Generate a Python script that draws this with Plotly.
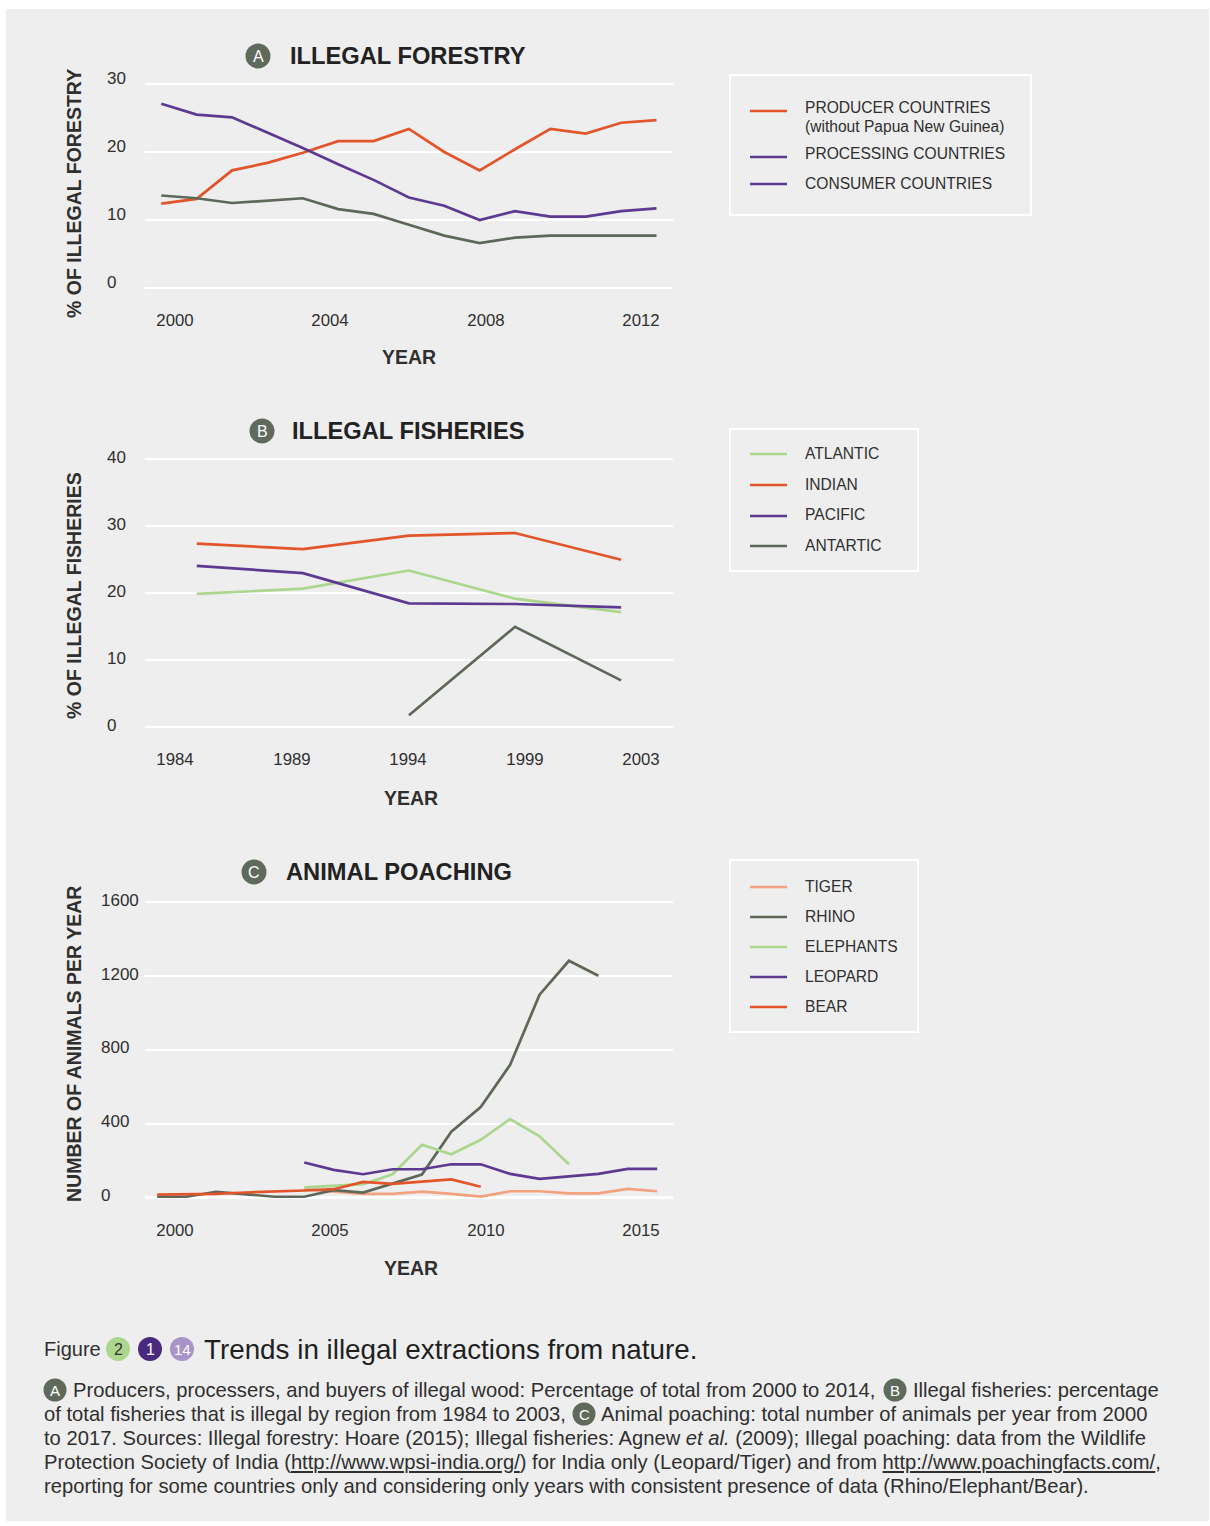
import plotly.graph_objects as go

W, H = 1210, 1526

# ---------------- DATA ----------------
# A: Illegal forestry (% of total)
FOREST_YEARS = [2000, 2001, 2002, 2003, 2004, 2005, 2006, 2007, 2008, 2009, 2010, 2011, 2012, 2013, 2014]
PRODUCER = [12.4, 13.1, 17.3, 18.4, 19.9, 21.6, 21.6, 23.4, 20.0, 17.3, 20.4, 23.4, 22.7, 24.3, 24.7]
PROCESSING = [27.1, 25.5, 25.1, 22.9, 20.6, 18.2, 15.9, 13.3, 12.1, 10.0, 11.3, 10.5, 10.5, 11.3, 11.7]
CONSUMER = [13.6, 13.2, 12.5, 12.8, 13.2, 11.6, 10.9, 9.3, 7.7, 6.6, 7.4, 7.7, 7.7, 7.7, 7.7]
FOREST_TICKS = ["2000", "2004", "2008", "2012"]
FOREST_YTICKS = [0, 10, 20, 30]

# B: Illegal fisheries (% of total)
FISH_PERIODS = ["P1", "P2", "P3", "P4", "P5"]
ATLANTIC = [19.9, 20.7, 23.4, 19.2, 17.2]
INDIAN = [27.4, 26.6, 28.6, 29.0, 25.0]
PACIFIC = [24.1, 23.0, 18.5, 18.4, 17.9]
ANTARTIC = [None, None, 1.8, 15.0, 7.0]
FISH_TICKS = ["1984", "1989", "1994", "1999", "2003"]
FISH_YTICKS = [0, 10, 20, 30, 40]

# C: Animal poaching (animals per year)
POACH_YEARS = [2000, 2001, 2002, 2003, 2004, 2005, 2006, 2007, 2008, 2009,
               2010, 2011, 2012, 2013, 2014, 2015, 2016, 2017]
TIGER = [None, None, None, None, None, 45, 32, 20, 20, 32, 20, 5, 34, 34, 22, 22, 47, 34]
RHINO = [4, 4, 31, 16, 4, 4, 40, 27, 76, 124, 357, 490, 719, 1099, 1283, 1202, None, None]
ELEPHANTS = [None, None, None, None, None, 55, 65, 72, 126, 286, 234, 313, 425, 332, 180, None, None, None]
LEOPARD = [None, None, None, None, None, 190, 150, 126, 153, 153, 180, 180, 128, 101, 115, 128, 155, 155]
BEAR = [16, 16, 20, 27, 31, 38, 45, 85, 74, 86, 98, 58, None, None, None, None, None, None]
POACH_TICKS = ["2000", "2005", "2010", "2015"]
POACH_YTICKS = [0, 400, 800, 1200, 1600]

# ---------------- STYLE ----------------
ORANGE = "#e2542a"
PURPLE = "#5d3a91"
GREY = "#5d6859"
GREEN = "#abd68d"
SALMON = "#f3a27f"
BADGE = "#5f6a5d"
BG = "#eeeeee"
TXT = "#2f2f2f"
FONT = "Liberation Sans, Arial, sans-serif"


def X(p):
    return p / W


def Y(p):
    return 1 - p / H


def lin(p0, v0, p1, v1):
    return lambda p: v0 + (p - p0) * (v1 - v0) / (p1 - p0)


fig = go.Figure()
shapes = []
ann = []

PLOT_L, PLOT_R = 145, 673

panels = [
    dict(xa="x", ya="y", xmap=lin(161.3, 2000, 656.5, 2014), tickpx=[175, 330, 486, 641],
         ticktext=FOREST_TICKS, ymap=lin(288, 0, 84, 30), ydom=(80, 292), yticks=FOREST_YTICKS,
         ylab_x=104.5, ylab_shift=5),
    dict(xa="x2", ya="y2", xmap=lin(196.8, 0, 621.1, 4), tickpx=[175, 292, 408, 525, 641],
         ticktext=FISH_TICKS, ymap=lin(727.3, 0, 459.3, 40), ydom=(455, 731), yticks=FISH_YTICKS,
         ylab_x=104.5, ylab_shift=2),
    dict(xa="x3", ya="y3", xmap=lin(157.2, 2000, 657.2, 2017), tickpx=[175, 330, 486, 641],
         ticktext=POACH_TICKS, ymap=lin(1197.5, 0, 902.3, 1600), ydom=(898, 1202), yticks=POACH_YTICKS,
         ylab_x=99, ylab_shift=2),
]

series = [
    (0, FOREST_YEARS, PRODUCER, ORANGE, "PRODUCER COUNTRIES"),
    (0, FOREST_YEARS, PROCESSING, PURPLE, "PROCESSING COUNTRIES"),
    (0, FOREST_YEARS, CONSUMER, GREY, "CONSUMER COUNTRIES"),
    (1, list(range(len(FISH_PERIODS))), ATLANTIC, GREEN, "ATLANTIC"),
    (1, list(range(len(FISH_PERIODS))), INDIAN, ORANGE, "INDIAN"),
    (1, list(range(len(FISH_PERIODS))), PACIFIC, PURPLE, "PACIFIC"),
    (1, list(range(len(FISH_PERIODS))), ANTARTIC, GREY, "ANTARTIC"),
    (2, POACH_YEARS, TIGER, SALMON, "TIGER"),
    (2, POACH_YEARS, RHINO, GREY, "RHINO"),
    (2, POACH_YEARS, ELEPHANTS, GREEN, "ELEPHANTS"),
    (2, POACH_YEARS, LEOPARD, PURPLE, "LEOPARD"),
    (2, POACH_YEARS, BEAR, ORANGE, "BEAR"),
]

for pi, xs, ys, col, name in series:
    p = panels[pi]
    fig.add_trace(go.Scatter(x=xs, y=ys, mode="lines", name=name, xaxis=p["xa"], yaxis=p["ya"],
                             line=dict(color=col, width=2.7), connectgaps=False,
                             showlegend=False, hoverinfo="skip"))

layout_axes = {}
for i, p in enumerate(panels):
    sfx = "" if i == 0 else str(i + 1)
    xm, ym = p["xmap"], p["ymap"]
    layout_axes["xaxis" + sfx] = dict(
        domain=[X(PLOT_L), X(PLOT_R)], anchor=p["ya"], range=[xm(PLOT_L), xm(PLOT_R)],
        tickmode="array", tickvals=[xm(t) for t in p["tickpx"]], ticktext=p["ticktext"],
        showgrid=False, zeroline=False, showline=False, ticks="outside", ticklen=13,
        tickcolor="rgba(0,0,0,0)", tickfont=dict(family=FONT, size=16.8, color=TXT), fixedrange=True)
    y0, y1 = p["ydom"]
    layout_axes["yaxis" + sfx] = dict(
        domain=[Y(y1), Y(y0)], anchor=p["xa"], range=[ym(y1), ym(y0)],
        tickmode="array", tickvals=p["yticks"], showgrid=True, gridcolor="#ffffff", gridwidth=2.2,
        zeroline=False, showline=False, ticks="", showticklabels=False, fixedrange=True)
    # left-aligned y tick labels placed on the axis scale
    for v in p["yticks"]:
        ann.append(dict(x=X(p["ylab_x"]), y=v, xref="paper", yref=p["ya"], text=str(v),
                        showarrow=False, xanchor="left", yanchor="middle", yshift=p["ylab_shift"],
                        font=dict(family=FONT, size=17, color=TXT)))

# background panel
shapes.append(dict(type="rect", xref="paper", yref="paper", x0=X(6), x1=X(1209), y0=Y(1521), y1=Y(9),
                   fillcolor=BG, line=dict(width=0), layer="below"))


def badge(cx, cy, r, fill, letter, tcol="#ffffff", size=15):
    shapes.append(dict(type="circle", xref="paper", yref="paper", x0=X(cx - r), x1=X(cx + r),
                       y0=Y(cy + r), y1=Y(cy - r), fillcolor=fill, line=dict(width=0), layer="above"))
    ann.append(dict(x=X(cx), y=Y(cy + 0.5), xref="paper", yref="paper", text=letter, showarrow=False,
                    xanchor="center", yanchor="middle",
                    font=dict(family=FONT, size=size, color=tcol)))


def text(x, y, s, size=16, bold=False, anchor="left", angle=0, col=TXT):
    ann.append(dict(x=X(x), y=Y(y), xref="paper", yref="paper", text=("<b>%s</b>" % s) if bold else s,
                    showarrow=False, xanchor=anchor, yanchor="middle", textangle=angle,
                    font=dict(family=FONT, size=size, color=col)))


# panel titles
for (cx, cy, letter, tx, title) in [(258, 56, "A", 288, "ILLEGAL FORESTRY"),
                                    (262, 431, "B", 290, "ILLEGAL FISHERIES"),
                                    (254, 872, "C", 284, "ANIMAL POACHING")]:
    badge(cx, cy, 12.5, BADGE, letter, size=16)
    text(tx, cy, title, size=23.7, bold=True, col="#222222")

# axis titles
text(74, 194, "% OF ILLEGAL FORESTRY", size=19.5, bold=True, anchor="center", angle=-90)
text(74, 596, "% OF ILLEGAL FISHERIES", size=19.5, bold=True, anchor="center", angle=-90)
text(74, 1044, "NUMBER OF ANIMALS PER YEAR", size=19.5, bold=True, anchor="center", angle=-90)
text(409, 357, "YEAR", size=19.5, bold=True, anchor="center")
text(411, 798, "YEAR", size=19.5, bold=True, anchor="center")
text(411, 1268, "YEAR", size=19.5, bold=True, anchor="center")


# legends
def legend_box(x0, y0, x1, y1):
    shapes.append(dict(type="rect", xref="paper", yref="paper", x0=X(x0), x1=X(x1), y0=Y(y1), y1=Y(y0),
                       fillcolor="rgba(0,0,0,0)", line=dict(color="#ffffff", width=2.2)))


def legend_key(y, col):
    shapes.append(dict(type="line", xref="paper", yref="paper", x0=X(750), x1=X(787), y0=Y(y), y1=Y(y),
                       line=dict(color=col, width=2.7)))


LEG_FS = 15.6
legend_box(730, 75, 1031, 215)
legend_key(111, ORANGE)
legend_key(157, PURPLE)
legend_key(184, PURPLE)
text(803, 108, "PRODUCER COUNTRIES", size=LEG_FS)
text(803, 127, "(without Papua New Guinea)", size=LEG_FS)
text(803, 153, "PROCESSING COUNTRIES", size=LEG_FS)
text(803, 184, "CONSUMER COUNTRIES", size=LEG_FS)

legend_box(730, 429, 918, 571)
for yy, col, lab in [(454, GREEN, "ATLANTIC"), (485, ORANGE, "INDIAN"),
                     (516, PURPLE, "PACIFIC"), (546, GREY, "ANTARTIC")]:
    legend_key(yy, col)
    text(803, yy - 1, lab, size=LEG_FS)

legend_box(730, 860, 918, 1032)
for yy, col, lab in [(887, SALMON, "TIGER"), (917, GREY, "RHINO"), (947, GREEN, "ELEPHANTS"),
                     (977, PURPLE, "LEOPARD"), (1007, ORANGE, "BEAR")]:
    legend_key(yy, col)
    text(803, yy - 1, lab, size=LEG_FS)

# caption
text(42, 1349, "Figure", size=20)
badge(118, 1349, 12, GREEN, "2", tcol="#333333", size=16)
badge(150, 1349, 12, "#4a2a7c", "1", size=16)
badge(182, 1349, 12, "#a894c8", "14", size=15)
text(202, 1349, "Trends in illegal extractions from nature.", size=27.8, col="#1f1f1f")

CAP_FS = 20.2
U = '<span style="text-decoration:underline">%s</span>'
badge(55, 1390, 11.5, BADGE, "A", size=15)
text(71, 1390, "Producers, processers, and buyers of illegal wood: Percentage of total from 2000 to 2014,", size=CAP_FS)
badge(895, 1390, 11.5, BADGE, "B", size=15)
text(911, 1390, "Illegal fisheries: percentage", size=CAP_FS)
text(42, 1414, "of total fisheries that is illegal by region from 1984 to 2003,", size=CAP_FS)
badge(584, 1414, 11.5, BADGE, "C", size=15)
text(599, 1414, "Animal poaching: total number of animals per year from 2000", size=CAP_FS)
text(42, 1438, "to 2017. Sources: Illegal forestry: Hoare (2015); Illegal fisheries: Agnew <i>et al.</i> (2009); "
               "Illegal poaching: data from the Wildlife", size=CAP_FS)
text(42, 1462, "Protection Society of India (" + (U % "http://www.wpsi-india.org/") +
     ") for India only (Leopard/Tiger) and from " + (U % "http://www.poachingfacts.com/") + ",", size=CAP_FS)
text(42, 1486, "reporting for some countries only and considering only years with consistent presence "
               "of data (Rhino/Elephant/Bear).", size=CAP_FS)

fig.update_layout(
    width=W, height=H, autosize=False,
    margin=dict(l=0, r=0, t=0, b=0, pad=0),
    paper_bgcolor="#ffffff", plot_bgcolor="rgba(0,0,0,0)",
    font=dict(family=FONT, color=TXT),
    showlegend=False,
    shapes=shapes, annotations=ann,
    **layout_axes,
)

CSS_FIX = ("var s=document.createElement('style');"
           "s.innerHTML='html,body{margin:0;padding:0;overflow:hidden;width:1210px;height:1526px}';"
           "document.head.appendChild(s);")
fig.write_html("out.html", config={"displayModeBar": False, "staticPlot": True}, post_script=CSS_FIX)
